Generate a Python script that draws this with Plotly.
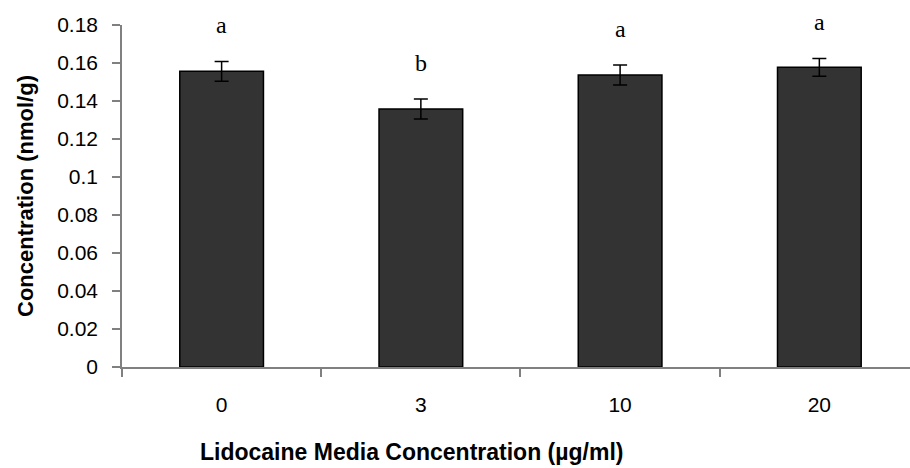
import plotly.graph_objects as go

# Lidocaine media concentration groups (µg/ml)
categories = ["0", "3", "10", "20"]
# Mean tissue concentration (nmol/g) and error
means = [0.1556, 0.1358, 0.1537, 0.1577]
errors = [0.0052, 0.0053, 0.0053, 0.0047]
# Significance letters
letters = ["a", "b", "a", "a"]

fig = go.Figure()
fig.add_trace(go.Bar(
    x=categories,
    y=means,
    width=0.42,
    marker=dict(color="#333333", line=dict(color="#000000", width=1.5)),
    error_y=dict(type="data", array=errors, visible=True,
                 color="#000000", thickness=1.5, width=7),
    showlegend=False,
))

# letters sit above each error bar; category axis positions are indices
for i, (m, e, lab) in enumerate(zip(means, errors, letters)):
    fig.add_annotation(
        x=i, y=m + e, text=lab, showarrow=False,
        yanchor="bottom", yshift=21,
        font=dict(family="Liberation Serif", size=24, color="#000000"),
    )

fig.add_annotation(
    xref="paper", yref="paper", x=(411 - 122) / 788, y=-(452 - 367) / 342,
    text="<b>Lidocaine Media Concentration (µg/ml)</b>", showarrow=False,
    xanchor="center", yanchor="middle",
    font=dict(family="Liberation Sans", size=23, color="#000000"),
)
fig.add_annotation(
    xref="paper", yref="paper", x=-(122 - 25) / 788, y=0.5,
    text="<b>Concentration (nmol/g)</b>", showarrow=False, textangle=-90,
    xanchor="center", yanchor="middle",
    font=dict(family="Liberation Sans", size=22, color="#000000"),
)

fig.update_layout(
    width=910, height=468,
    margin=dict(l=122, r=0, t=25, b=101),
    paper_bgcolor="white", plot_bgcolor="white",
    font=dict(family="Liberation Sans", size=21, color="#000000"),
    bargap=0.58,
)
fig.update_xaxes(
    type="category", range=[-0.5, 3.455],
    showline=True, linecolor="#808080", linewidth=1.5,
    ticks="outside", tickson="boundaries", ticklen=8, tickcolor="#808080", tickwidth=1.5,
    ticklabelstandoff=18, showgrid=False, zeroline=False,
)
fig.update_yaxes(
    range=[0, 0.18], dtick=0.02, tickformat="~g",
    showline=True, linecolor="#808080", linewidth=1.5,
    ticks="outside", ticklen=8, tickcolor="#808080", tickwidth=1.5,
    ticklabelstandoff=10, showgrid=False, zeroline=False,
)

fig.write_html("out.html")
